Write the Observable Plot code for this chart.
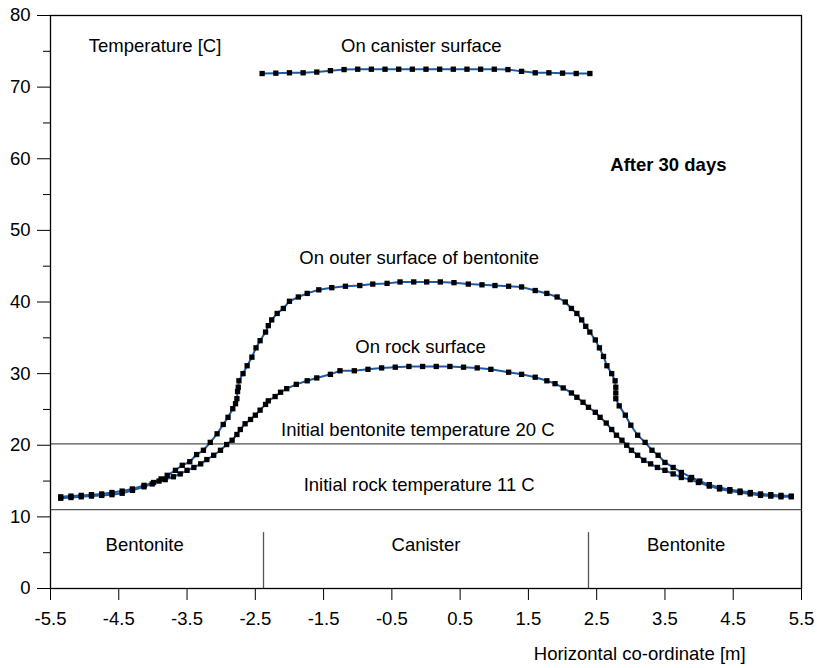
<!DOCTYPE html>
<html><head><meta charset="utf-8">
<script src="https://cdn.jsdelivr.net/npm/d3@7"></script>
<script src="https://cdn.jsdelivr.net/npm/@observablehq/plot@0.6"></script>
<style>body{margin:0;background:#fff}</style>
</head><body><div id="chart"></div>
<script>
// ---- data ----
const canisterX = [-2.4,-2.2,-2.0,-1.8,-1.6,-1.4,-1.2,-1.0,-0.8,-0.6,-0.4,-0.2,0,0.2,0.4,0.6,0.8,1.0,1.2,1.4,1.6,1.8,2.0,2.2,2.4];
const canisterT = [71.9,71.95,72.0,72.0,72.1,72.3,72.45,72.5,72.5,72.5,72.5,72.5,72.5,72.5,72.5,72.5,72.5,72.5,72.45,72.2,72.0,72.0,71.95,71.9,71.9];

const bentoniteX = [-5.35,-5.2,-5.05,-4.9,-4.75,-4.6,-4.45,-4.3,-4.13,-3.99,-3.88,-3.79,-3.67,-3.57,-3.46,-3.36,-3.26,-3.16,-3.06,-2.97,-2.9,-2.83,-2.79,-2.77,-2.76,-2.75,-2.74,-2.68,-2.62,-2.55,-2.49,-2.43,-2.35,-2.31,-2.26,-2.18,-2.09,-2.0,-1.87,-1.74,-1.57,-1.38,-1.18,-0.97,-0.78,-0.57,-0.38,-0.18,0.01,0.21,0.41,0.62,0.82,1.01,1.21,1.40,1.60,1.77,1.92,2.04,2.13,2.21,2.28,2.34,2.40,2.48,2.54,2.60,2.65,2.72,2.77,2.78,2.78,2.78,2.83,2.92,3.0,3.1,3.21,3.31,3.40,3.50,3.62,3.74,3.89,4.01,4.15,4.3,4.45,4.6,4.75,4.9,5.05,5.2,5.35];
const bentoniteT = [12.8,12.9,13.0,13.1,13.2,13.4,13.6,13.9,14.4,14.8,15.3,15.8,16.5,17.2,17.7,18.7,19.3,20.4,21.6,22.9,23.9,25.1,25.8,26.5,27.5,28.1,29.0,30.0,31.1,32.3,33.6,34.6,35.8,36.7,37.5,38.4,39.1,40.1,40.7,41.2,41.7,42.0,42.2,42.3,42.5,42.6,42.8,42.8,42.8,42.8,42.7,42.5,42.4,42.3,42.2,42.1,41.6,41.2,40.7,40.0,39.1,38.4,37.5,36.6,35.8,34.7,33.6,32.4,31.1,30.0,29.0,28.1,27.3,26.5,25.5,24.2,22.8,21.4,20.4,19.3,18.6,17.6,16.9,16.2,15.5,15.0,14.5,14.1,13.8,13.6,13.4,13.2,13.1,13.0,12.9];

const rockX = [-5.35,-5.2,-5.05,-4.9,-4.75,-4.6,-4.45,-4.3,-4.13,-4.01,-3.91,-3.82,-3.7,-3.6,-3.5,-3.4,-3.3,-3.21,-3.11,-3.01,-2.92,-2.84,-2.77,-2.72,-2.65,-2.57,-2.5,-2.43,-2.35,-2.31,-2.21,-2.13,-2.04,-1.90,-1.74,-1.60,-1.40,-1.26,-1.05,-0.85,-0.65,-0.45,-0.25,-0.05,0.15,0.35,0.55,0.75,0.95,1.21,1.40,1.60,1.77,1.89,2.01,2.13,2.21,2.30,2.38,2.48,2.55,2.64,2.72,2.79,2.87,2.94,3.01,3.1,3.19,3.29,3.39,3.5,3.62,3.74,3.87,3.99,4.15,4.3,4.45,4.6,4.75,4.9,5.05,5.2,5.35];
const rockT = [12.6,12.7,12.8,12.9,13.0,13.1,13.3,13.7,14.2,14.6,15.0,15.2,15.6,16.0,16.5,16.9,17.4,18.0,18.6,19.3,20.1,20.7,21.5,22.2,23.0,23.6,24.2,24.9,25.7,26.2,26.8,27.4,27.9,28.5,29.0,29.4,29.9,30.4,30.4,30.6,30.8,30.9,31.0,31.0,31.0,31.0,30.9,30.8,30.6,30.2,29.9,29.5,29.0,28.6,28.0,27.3,26.7,26.0,25.3,24.6,23.9,23.1,22.2,21.4,20.7,20.0,19.3,18.6,17.9,17.4,16.9,16.5,16.0,15.5,15.2,14.8,14.3,13.9,13.6,13.4,13.2,13.0,12.9,12.8,12.8];

const initialTemps = [20.2, 11.0];          // initial bentonite / rock temperature lines
const zoneBoundaries = [-2.38, 2.38];       // canister edges
const zoneBoundaryTop = 7.8;
const xTicks = [-5.5,-4.5,-3.5,-2.5,-1.5,-0.5,0.5,1.5,2.5,3.5,4.5,5.5];
const yMajor = [0,10,20,30,40,50,60,70,80];
const yMinor = [5,15,25,35,45,55,65,75];

const labelText = ["Temperature [C]","On canister surface","After 30 days","On outer surface of bentonite","On rock surface","Initial bentonite temperature 20 C","Initial rock temperature 11 C","Bentonite","Canister","Bentonite","Horizontal co-ordinate [m]"];
const labelX    = [-4.94,-0.07,3.55,-0.1,-0.08,-0.12,-0.1,-4.12,0.0,3.81,3.13];
const labelY    = [75.8,75.7,59.1,46.1,33.7,22.1,14.5,6.1,6.1,6.1,-9.1];
const labelAnchor = ["start","middle","middle","middle","middle","middle","middle","middle","middle","middle","middle"];
const labelBold = [false,false,true,false,false,false,false,false,false,false,false];

// ---- build tables ----
const series = [
  ...canisterX.map((x,i)=>({s:"canister",x,t:canisterT[i]})),
  ...bentoniteX.map((x,i)=>({s:"bentonite",x,t:bentoniteT[i]})),
  ...rockX.map((x,i)=>({s:"rock",x,t:rockT[i]}))
];
const labels = labelText.map((text,i)=>({text,x:labelX[i],y:labelY[i],anchor:labelAnchor[i],bold:labelBold[i]}));

const FS = 18.5;
const chart = Plot.plot({
  width: 817, height: 668,
  marginTop: 15, marginBottom: 80, marginLeft: 50, marginRight: 16,
  style: {fontFamily: "'Liberation Sans', Arial, sans-serif", fontSize: FS + "px", color: "black", background: "white"},
  x: {domain: [-5.5, 5.5]},
  y: {domain: [0, 80]},
  marks: [
    Plot.ruleY(initialTemps, {stroke: "#555", strokeWidth: 1.3}),
    Plot.ruleX(zoneBoundaries, {y1: 0, y2: zoneBoundaryTop, stroke: "#555", strokeWidth: 1.3}),
    Plot.line(series, {x: "x", y: "t", z: "s", stroke: "#1d5ba6", strokeWidth: 2}),
    Plot.dot(series, {x: "x", y: "t", symbol: "square", r: 3, fill: "black", stroke: "none"}),
    Plot.text(labels.filter(d=>!d.bold && d.anchor==="start"), {x:"x", y:"y", text:"text", textAnchor:"start", fontSize:FS, fill:"black"}),
    Plot.text(labels.filter(d=>!d.bold && d.anchor==="middle"), {x:"x", y:"y", text:"text", textAnchor:"middle", fontSize:FS, fill:"black"}),
    Plot.text(labels.filter(d=>d.bold), {x:"x", y:"y", text:"text", textAnchor:"middle", fontSize:FS, fontWeight:"bold", fill:"black"}),
    Plot.axisY({ticks: yMajor, tickSize: 13, tickPadding: 7, label: null, fontSize: FS}),
    Plot.axisY({ticks: yMinor, tickSize: 7, tickFormat: () => "", label: null}),
    Plot.axisX({ticks: xTicks, tickSize: 12, tickPadding: 11, tickFormat: d => String(d), label: null, fontSize: FS}),
    Plot.frame({stroke: "black", strokeWidth: 1.3})
  ]
});
document.getElementById("chart").appendChild(chart);
</script>
</body></html>
